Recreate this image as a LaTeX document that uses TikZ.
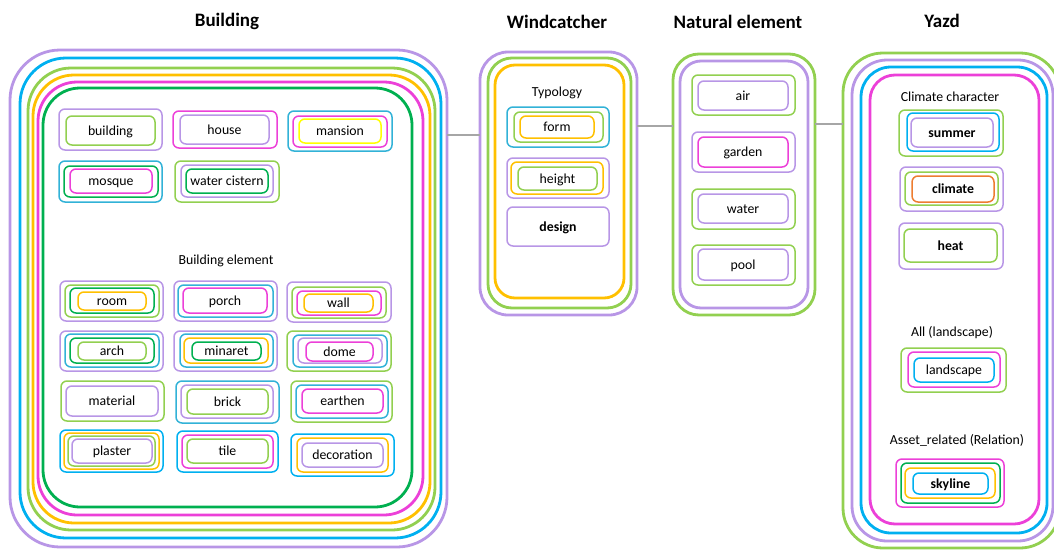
\documentclass[tikz,border=0pt]{standalone}
\usepackage{fontspec}
\setmainfont{Carlito}
\usetikzlibrary{fit}
\definecolor{cpur}{RGB}{184,150,230}
\definecolor{cblu}{RGB}{0,176,240}
\definecolor{cblt}{RGB}{50,178,215}
\definecolor{cgrn}{RGB}{146,208,80}
\definecolor{corg}{RGB}{255,192,0}
\definecolor{cmag}{RGB}{236,64,216}
\definecolor{cdgr}{RGB}{0,176,80}
\definecolor{cyel}{RGB}{255,255,0}
\definecolor{cor2}{RGB}{237,125,49}
\definecolor{cgray}{RGB}{166,166,166}
\tikzset{
  ring/.style={draw=#1, line width=2.8pt, inner sep=0pt, outer sep=0pt},
  sbox/.style={draw=#1, line width=1.5pt, rounded corners=6pt, inner sep=0pt, outer sep=0pt},
  lbl/.style={font=\fontsize{13.8}{16}\selectfont, text=black, inner sep=0pt, text height=11pt, text depth=2pt},
  blbl/.style={lbl, font=\fontsize{13.8}{16}\selectfont\bfseries},
  ttl/.style={font=\fontsize{19}{22}\selectfont\bfseries, inner sep=0pt},
  conn/.style={draw=cgray, line width=1.4pt}
}
\newcommand\bx[7]{\node[#6, fit={(#2,#3) (#4,#5)}, #7] (#1) {};}
\newcommand\lb[3]{\node[#3] (#1-l) at (#1.center) {#2};}
\begin{document}
\begin{tikzpicture}[x=1pt,y=-1pt]
\useasboundingbox (0,0) rectangle (1054,549);
% titles
\node[ttl] (tB) at (227,21) {Building};
\node[ttl] (tW) at (557,22) {Windcatcher};
\node[ttl] (tN) at (738,22) {Natural element};
\node[ttl] (tY) at (942,21) {Yazd};
% ---------------- Building
\bx{B1}{10}{50}{447}{547}{ring=cpur}{rounded corners=50pt}
\bx{B2}{20}{58}{441}{538}{ring=cblu}{rounded corners=46pt}
\bx{B3}{28}{68}{435}{530}{ring=cgrn}{rounded corners=43pt}
\bx{B4}{33}{75}{430}{523}{ring=corg}{rounded corners=41pt}
\bx{B5}{38}{82}{423}{515}{ring=cmag}{rounded corners=39pt}
\bx{B6}{43}{88}{412}{507}{ring=cdgr}{rounded corners=37pt}
% building
\bx{bu1}{59}{109}{162}{150}{sbox=cpur}{}
\bx{bu2}{66}{116}{155}{145}{sbox=cgrn}{}
\lb{bu2}{building}{lbl}
% house
\bx{ho1}{173}{111}{277}{148}{sbox=cmag}{}
\bx{ho2}{180}{115}{269}{144}{sbox=cpur}{}
\lb{ho2}{house}{lbl}
% mansion
\bx{ma1}{288}{111}{392}{151}{sbox=cblt}{}
\bx{ma2}{293}{116}{387}{147}{sbox=cmag}{}
\bx{ma3}{299}{119}{381}{143}{sbox=cyel}{}
\lb{ma3}{mansion}{lbl}
% mosque
\bx{mo1}{59}{161}{162}{202}{sbox=cblt}{}
\bx{mo2}{64}{166}{158}{197}{sbox=cdgr}{}
\bx{mo3}{70}{169}{152}{193}{sbox=cmag}{}
\lb{mo3}{mosque}{lbl}
% water cistern
\bx{wc1}{175}{161}{279}{202}{sbox=cgrn}{}
\bx{wc2}{181}{165}{273}{197}{sbox=cpur}{}
\bx{wc3}{186}{169}{268}{193}{sbox=cdgr}{}
\lb{wc3}{water cistern}{lbl}
\node[lbl] (tBE) at (226,260) {Building element};
% room
\bx{ro1}{60}{281}{163}{321}{sbox=cpur}{}
\bx{ro2}{65}{285}{159}{317}{sbox=cgrn}{}
\bx{ro3}{70}{288}{154}{313}{sbox=cdgr}{}
\bx{ro4}{78}{292}{146}{310}{sbox=corg}{}
\lb{ro4}{room}{lbl}
% porch
\bx{po1}{174}{281}{277}{321}{sbox=cpur}{}
\bx{po2}{178}{285}{273}{317}{sbox=cblt}{}
\bx{po3}{183}{288}{267}{313}{sbox=cmag}{}
\lb{po3}{porch}{lbl}
% wall
\bx{wa1}{287}{282}{391}{322}{sbox=cpur}{}
\bx{wa2}{292}{287}{386}{318}{sbox=cgrn}{}
\bx{wa3}{297}{291}{381}{315}{sbox=cmag}{}
\bx{wa4}{304}{294}{373}{312}{sbox=corg}{}
\lb{wa4}{wall}{lbl}
% arch
\bx{ar1}{60}{331}{163}{371}{sbox=cpur}{}
\bx{ar2}{65}{334}{159}{367}{sbox=cblt}{}
\bx{ar3}{70}{338}{154}{363}{sbox=cdgr}{}
\bx{ar4}{78}{342}{146}{360}{sbox=cgrn}{}
\lb{ar4}{arch}{lbl}
% minaret
\bx{mi1}{174}{331}{277}{371}{sbox=cpur}{}
\bx{mi2}{180}{334}{273}{367}{sbox=cblt}{}
\bx{mi3}{184}{338}{268}{363}{sbox=corg}{}
\bx{mi4}{192}{342}{261}{360}{sbox=cdgr}{}
\lb{mi4}{minaret}{lbl}
% dome
\bx{do1}{287}{331}{391}{371}{sbox=cgrn}{}
\bx{do2}{293}{335}{387}{367}{sbox=cblt}{}
\bx{do3}{298}{338}{382}{363}{sbox=cpur}{}
\bx{do4}{306}{342}{373}{361}{sbox=cmag}{}
\lb{do4}{dome}{lbl}
% material
\bx{mt1}{61}{381}{164}{421}{sbox=cgrn}{}
\bx{mt2}{66}{386}{158}{416}{sbox=cpur}{}
\lb{mt2}{material}{lbl}
% brick
\bx{br1}{176}{381}{279}{423}{sbox=cblt}{}
\bx{br2}{181}{385}{273}{418}{sbox=cpur}{}
\bx{br3}{187}{389}{268}{414}{sbox=cgrn}{}
\lb{br3}{brick}{lbl}
% earthen
\bx{ea1}{291}{381}{392}{422}{sbox=cgrn}{}
\bx{ea2}{296}{385}{388}{418}{sbox=cblt}{}
\bx{ea3}{302}{389}{383}{413}{sbox=cmag}{}
\lb{ea3}{earthen}{lbl}
% plaster
\bx{pl1}{60}{430}{163}{472}{sbox=cblu}{}
\bx{pl2}{64}{433}{159}{469}{sbox=corg}{}
\bx{pl3}{68}{436}{155}{466}{sbox=cgrn}{}
\bx{pl4}{72}{439}{152}{463}{sbox=cpur}{}
\lb{pl4}{plaster}{lbl}
% tile
\bx{ti1}{177}{431}{278}{472}{sbox=cblu}{}
\bx{ti2}{182}{435}{273}{468}{sbox=cmag}{}
\bx{ti3}{187}{439}{268}{463}{sbox=cgrn}{}
\lb{ti3}{tile}{lbl}
% decoration
\bx{de1}{291}{434}{394}{476}{sbox=cblu}{}
\bx{de2}{297}{438}{388}{472}{sbox=corg}{}
\bx{de3}{302}{443}{383}{467}{sbox=cpur}{}
\lb{de3}{decoration}{lbl}
% ---------------- Windcatcher
\bx{W1}{480}{52}{637}{315}{ring=cpur}{rounded corners=28pt}
\bx{W2}{488}{58}{631}{308}{ring=cgrn}{rounded corners=24pt}
\bx{W3}{495}{65}{624}{298}{ring=corg}{rounded corners=20pt}
\node[lbl] (tTy) at (557,92) {Typology};
\bx{fo1}{507}{107}{609}{147}{sbox=cblt}{}
\bx{fo2}{514}{112}{603}{142}{sbox=cgrn}{}
\bx{fo3}{520}{116}{594}{138}{sbox=corg}{}
\lb{fo3}{form}{lbl}
\bx{he1}{507}{158}{609}{198}{sbox=cpur}{}
\bx{he2}{511}{162}{603}{194}{sbox=corg}{}
\bx{he3}{518}{167}{597}{190}{sbox=cgrn}{}
\lb{he3}{height}{lbl}
\bx{ds1}{507}{207}{609}{246}{sbox=cpur}{}
\lb{ds1}{design}{blbl}
% ---------------- Natural element
\bx{N1}{673}{54}{815}{315}{ring=cgrn}{rounded corners=26pt}
\bx{N2}{680}{61}{808}{308}{ring=cpur}{rounded corners=21pt}
\bx{ai1}{692}{75}{795}{115}{sbox=cgrn}{}
\bx{ai2}{698}{81}{788}{110}{sbox=cpur}{}
\lb{ai2}{air}{lbl}
\bx{ga1}{692}{132}{795}{172}{sbox=cpur}{}
\bx{ga2}{698}{137}{788}{167}{sbox=cmag}{}
\lb{ga2}{garden}{lbl}
\bx{wt1}{692}{189}{795}{229}{sbox=cgrn}{}
\bx{wt2}{698}{194}{788}{223}{sbox=cpur}{}
\lb{wt2}{water}{lbl}
\bx{pw1}{692}{245}{795}{285}{sbox=cgrn}{}
\bx{pw2}{698}{249}{788}{280}{sbox=cpur}{}
\lb{pw2}{pool}{lbl}
% ---------------- Yazd
\bx{Y1}{843}{53}{1060}{548}{ring=cgrn}{rounded corners=40pt}
\bx{Y2}{852}{60}{1053}{541}{ring=cpur}{rounded corners=35pt}
\bx{Y3}{861}{67}{1047}{533}{ring=cblu}{rounded corners=30pt}
\bx{Y4}{870}{75}{1039}{524}{ring=cmag}{rounded corners=25pt}
\node[lbl] (tCC) at (950,97) {Climate character};
\bx{su1}{899}{110}{1003}{156}{sbox=cgrn}{}
\bx{su2}{907}{113}{999}{151}{sbox=cblu}{}
\bx{su3}{911}{118}{993}{147}{sbox=cpur}{}
\lb{su3}{summer}{blbl}
\bx{cl1}{900}{167}{1003}{211}{sbox=cpur}{}
\bx{cl2}{905}{172}{998}{205}{sbox=cgrn}{}
\bx{cl3}{912}{176}{994}{202}{sbox=cor2}{}
\lb{cl3}{climate}{blbl}
\bx{ht1}{899}{223}{1003}{269}{sbox=cpur}{}
\bx{ht2}{904}{229}{997}{262}{sbox=cgrn}{}
\lb{ht2}{heat}{blbl}
\node[lbl] (tAL) at (952,332) {All (landscape)};
\bx{la1}{901}{348}{1006}{392}{sbox=cgrn}{}
\bx{la2}{908}{352}{1000}{387}{sbox=cmag}{}
\bx{la3}{914}{358}{994}{382}{sbox=cblu}{}
\lb{la3}{landscape}{lbl}
\node[lbl] (tAR) at (957,440) {Asset\_related (Relation)};
\bx{sk1}{896}{459}{1004}{507}{sbox=cmag}{}
\bx{sk2}{901}{463}{1000}{503}{sbox=cdgr}{}
\bx{sk3}{905}{468}{995}{498}{sbox=corg}{}
\bx{sk4}{913}{473}{988}{494}{sbox=cblu}{}
\lb{sk4}{skyline}{blbl}
% ---------------- connectors
\coordinate (j1) at (0,135);
\coordinate (j2) at (0,126);
\coordinate (j3) at (0,124);
\draw[conn] (B1.east |- j1) -- (W1.west |- j1);
\draw[conn] (W1.east |- j2) -- (N1.west |- j2);
\draw[conn] (N1.east |- j3) -- (Y1.west |- j3);
\end{tikzpicture}
\end{document}
